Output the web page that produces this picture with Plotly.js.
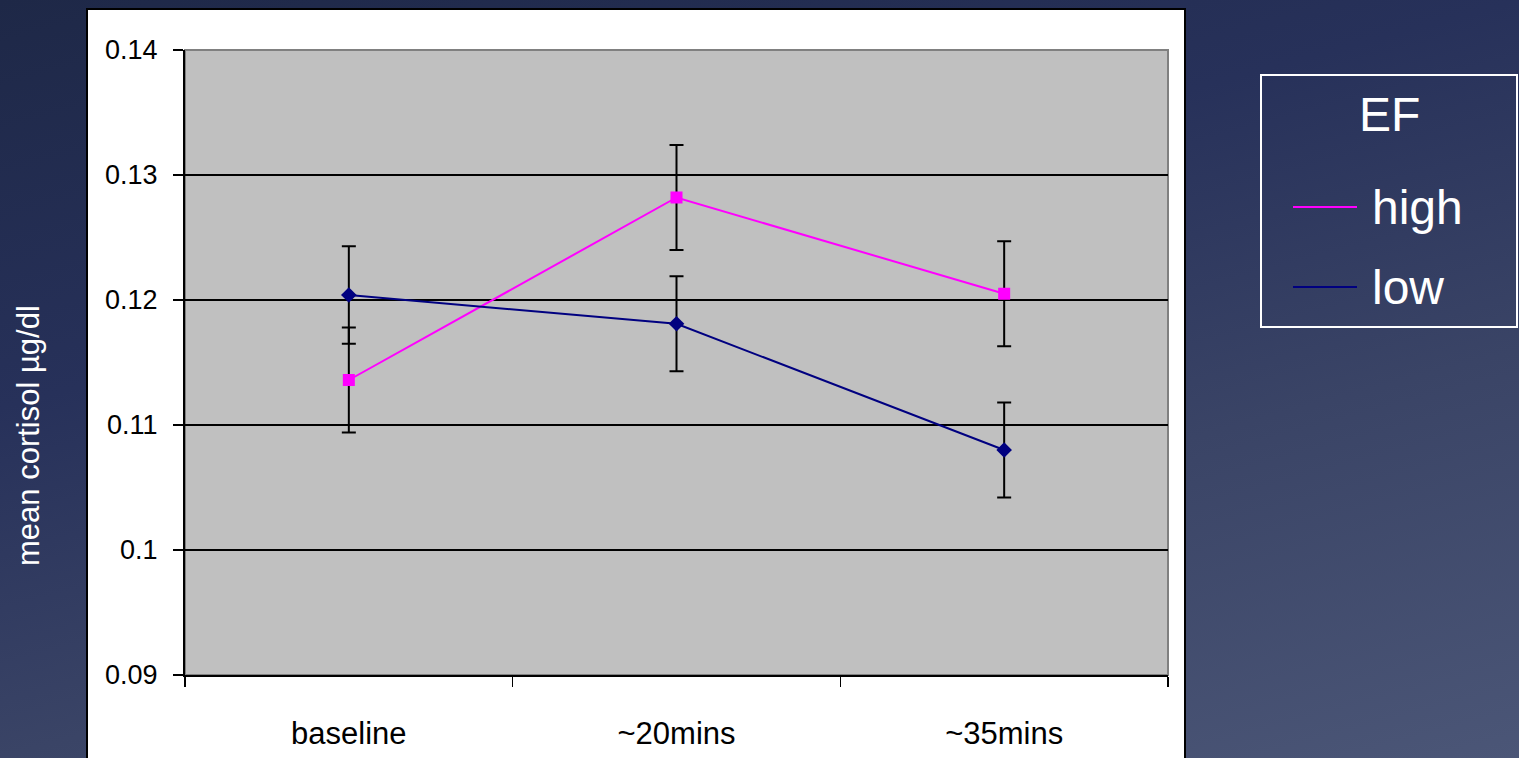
<!DOCTYPE html>
<html>
<head>
<meta charset="utf-8">
<script src="https://cdn.plot.ly/plotly-3.0.1.min.js"></script>
<style>
  html, body { margin: 0; padding: 0; width: 1519px; height: 758px; overflow: hidden; }
  body { background: linear-gradient(165deg, #1e2847 0%, #27315a 35%, #3a4466 65%, #4b5677 100%); }
  #chart { width: 1519px; height: 758px; }
</style>
</head>
<body>
<div id="chart"></div>
<script>
const categories = ['baseline', '~20mins', '~35mins'];
const seriesNames = ['high', 'low'];
const highMean = [0.1136, 0.1282, 0.1205];
const highErr  = [0.0042, 0.0042, 0.0042];
const lowMean  = [0.1204, 0.1181, 0.1080];
const lowErr   = [0.0039, 0.0038, 0.0038];
const legendTitle = 'EF';
const yTitle = 'mean cortisol µg/dl';

const FONT = 'Liberation Sans, Arial, sans-serif';
const colors = ['#ff00ff', '#000080'];

const traces = [
  {
    x: categories, y: highMean, name: seriesNames[0], type: 'scatter', mode: 'lines+markers',
    line: {color: colors[0], width: 2},
    marker: {symbol: 'square', size: 12, color: colors[0]},
    error_y: {type: 'data', array: highErr, visible: true, color: '#000', thickness: 2, width: 7}
  },
  {
    x: categories, y: lowMean, name: seriesNames[1], type: 'scatter', mode: 'lines+markers',
    line: {color: colors[1], width: 2},
    marker: {symbol: 'diamond', size: 12, color: colors[1]},
    error_y: {type: 'data', array: lowErr, visible: true, color: '#000', thickness: 2, width: 7}
  }
];

// pixel -> paper helpers for decoration (plot area: x 185..1168, y 50..675)
const L = 185, R = 1168, T = 50, B = 675;
const px = v => (v - L) / (R - L);
const py = v => (B - v) / (B - T);

const shapes = [
  // white chart frame
  {type: 'rect', xref: 'paper', yref: 'paper', layer: 'below',
   x0: px(87), x1: px(1185), y0: py(775), y1: py(9),
   fillcolor: '#ffffff', line: {color: '#000000', width: 2}},
  // gray plot area
  {type: 'rect', xref: 'paper', yref: 'paper', layer: 'below',
   x0: 0, x1: 1, y0: 0, y1: 1,
   fillcolor: '#c0c0c0', line: {color: '#808080', width: 2}},
  // legend box
  {type: 'rect', xref: 'paper', yref: 'paper',
   x0: px(1261), x1: px(1517), y0: py(327), y1: py(75),
   fillcolor: 'rgba(0,0,0,0)', line: {color: '#ffffff', width: 2}}
];

const legendRowsY = [207, 287];
const annotations = [
  {xref: 'paper', yref: 'paper', x: px(1389), y: py(114), xanchor: 'center', yanchor: 'middle',
   text: legendTitle, showarrow: false, font: {family: FONT, size: 48, color: '#ffffff'}},
  {xref: 'paper', yref: 'paper', x: px(29), y: py(436), xanchor: 'center', yanchor: 'middle',
   text: yTitle, textangle: -90, showarrow: false, font: {family: FONT, size: 31, color: '#ffffff'}}
];
seriesNames.forEach((n, i) => {
  shapes.push({type: 'line', xref: 'paper', yref: 'paper',
    x0: px(1293), x1: px(1357), y0: py(legendRowsY[i]), y1: py(legendRowsY[i]),
    line: {color: colors[i], width: 2}});
  annotations.push({xref: 'paper', yref: 'paper', x: px(1370), y: py(legendRowsY[i]),
    xanchor: 'left', yanchor: 'middle', text: n, showarrow: false,
    font: {family: FONT, size: 48, color: '#ffffff'}});
});

const layout = {
  width: 1519, height: 758,
  margin: {l: L, r: 1519 - R, t: T, b: 758 - B, pad: 0},
  paper_bgcolor: 'rgba(0,0,0,0)',
  plot_bgcolor: 'rgba(0,0,0,0)',
  showlegend: false,
  font: {family: FONT, color: '#000'},
  xaxis: {
    type: 'category', categoryorder: 'array', categoryarray: categories,
    range: [-0.5, 2.5], tickson: 'boundaries',
    ticks: 'outside', ticklen: 10, tickwidth: 1.5, tickcolor: '#000',
    showline: true, linecolor: '#000', linewidth: 2,
    showgrid: false, zeroline: false,
    tickfont: {family: FONT, size: 31, color: '#000'},
    ticklabelstandoff: 30
  },
  yaxis: {
    range: [0.09, 0.14], dtick: 0.01, tick0: 0.09,
    ticks: 'outside', ticklen: 10, tickwidth: 1.5, tickcolor: '#000',
    showline: true, linecolor: '#000', linewidth: 2,
    showgrid: true, gridcolor: '#000', gridwidth: 1.2,
    zeroline: false,
    tickfont: {family: FONT, size: 27, color: '#000'},
    ticklabelstandoff: 10
  },
  shapes: shapes,
  annotations: annotations
};

Plotly.newPlot('chart', traces, layout, {displayModeBar: false, staticPlot: true});
</script>
</body>
</html>
